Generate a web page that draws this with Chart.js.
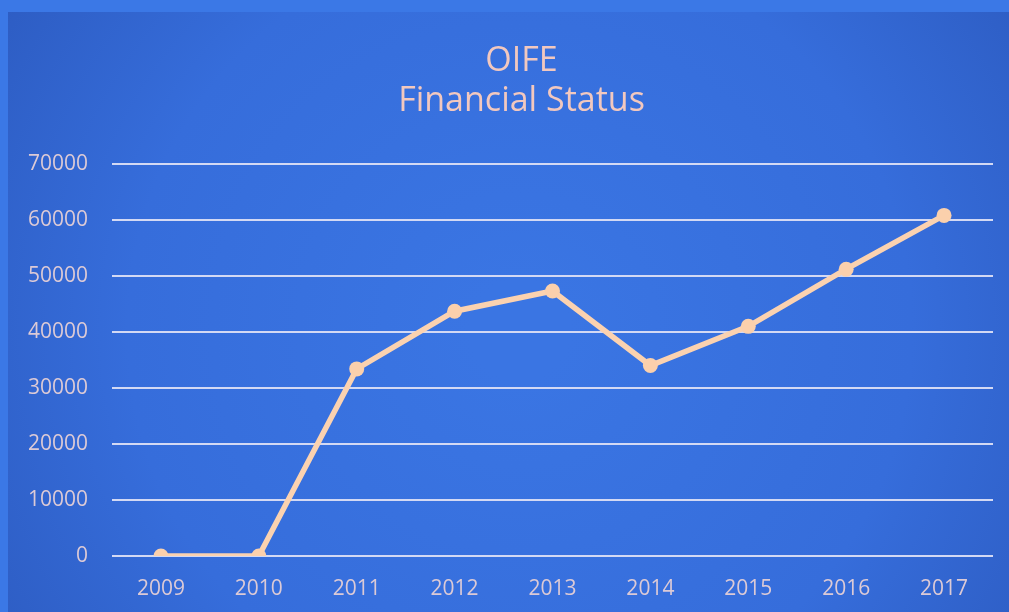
<!DOCTYPE html>
<html>
<head>
<meta charset="utf-8">
<script src="https://cdn.jsdelivr.net/npm/chart.js@4"></script>
<style>
html,body{margin:0;padding:0;background:#3b78e6;}
#wrap{width:1009px;height:612px;position:relative;}
</style>
</head>
<body>
<div id="wrap"><canvas id="c" width="1009" height="612"></canvas></div>
<script>
const titleLines = ["OIFE", "Financial Status"];
const years = ["2009","2010","2011","2012","2013","2014","2015","2016","2017"];
const balance = [0, 0, 33400, 43700, 47300, 34000, 41000, 51200, 60800];
const yTicks = [0,10000,20000,30000,40000,50000,60000,70000];

const bgPlugin = {
  id: 'bg',
  afterLayout(chart) {
    // let the y-axis labels extend into the left padding without being clipped
    if (chart.scales.y) chart.scales.y.left = 0;
  },
  beforeDraw(chart) {
    const ctx = chart.ctx;
    const W = chart.width, H = chart.height;
    ctx.save();
    ctx.fillStyle = '#3b78e6';
    ctx.fillRect(0, 0, W, H);
    const g = ctx.createRadialGradient(520, 330, 50, 520, 330, 620);
    g.addColorStop(0, '#3a75e3');
    g.addColorStop(0.6, '#366ddb');
    g.addColorStop(1, '#2d5cc2');
    ctx.fillStyle = g;
    ctx.fillRect(8, 12, W - 8, H - 12);
    ctx.restore();
  }
};

const FONT = '"Open Sans", Lato, sans-serif';

new Chart(document.getElementById('c'), {
  type: 'line',
  data: {
    labels: years,
    datasets: [{
      data: balance,
      borderColor: '#fbd2b0',
      backgroundColor: '#fbd2b0',
      borderWidth: 5.5,
      pointRadius: 7.5,
      pointHoverRadius: 7.5,
      pointBackgroundColor: '#fbd0ac',
      pointBorderWidth: 0,
      tension: 0
    }]
  },
  options: {
    responsive: false,
    animation: false,
    devicePixelRatio: 1,
    layout: { padding: { left: 50, right: 16, top: 0, bottom: 0 } },
    plugins: {
      legend: { display: false },
      tooltip: { enabled: false },
      title: {
        display: true,
        text: titleLines,
        color: '#f2c8bf',
        font: { family: FONT, size: 34, weight: 'normal', lineHeight: 1.16 },
        padding: { top: 42, bottom: 43 }
      }
    },
    scales: {
      x: {
        offset: true,
        grid: { display: false, drawTicks: false },
        border: { display: false },
        ticks: {
          color: '#dccad6',
          font: { family: FONT, size: 21 },
          padding: 20,
          maxRotation: 0
        },
        afterFit(scale) { scale.height = 56; }
      },
      y: {
        min: 0,
        max: 70000,
        afterBuildTicks(scale) { scale.ticks = yTicks.map(v => ({ value: v })); },
        grid: { color: '#d3d9f4', lineWidth: 2, drawTicks: false },
        border: { display: false },
        ticks: {
          color: '#dccad6',
          font: { family: FONT, size: 21 },
          padding: 24,
          callback: v => String(v)
        },
        afterFit(scale) { scale.width = 62; }
      }
    }
  },
  plugins: [bgPlugin]
});
</script>
</body>
</html>
